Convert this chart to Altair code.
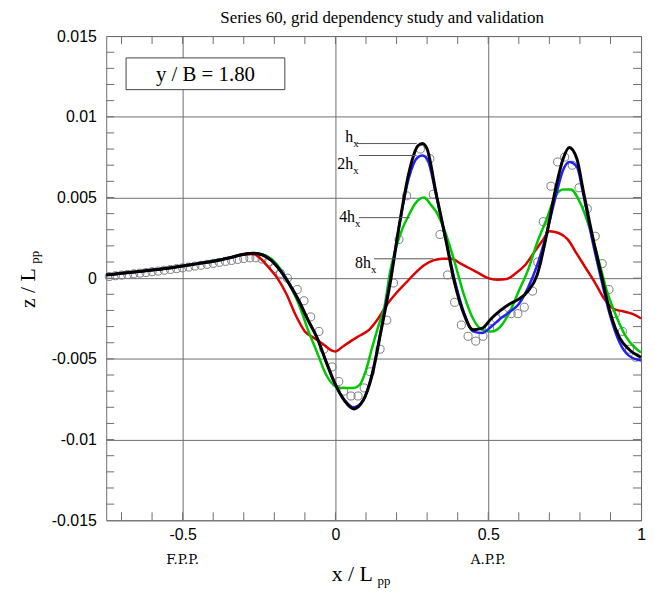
import altair as alt
import pandas as pd

TITLE = "Series 60, grid dependency study and validation"

# ---- computed wave profiles (x / Lpp , z / Lpp) ----
x_h = [-0.75, -0.70, -0.65, -0.60, -0.55, -0.50, -0.45, -0.40, -0.35, -0.30,
       -0.27, -0.24, -0.21, -0.18, -0.15, -0.12, -0.09, -0.06, -0.03, 0.00,
       0.03, 0.06, 0.09, 0.12, 0.15, 0.18, 0.21, 0.24, 0.27, 0.285,
       0.30, 0.33, 0.36, 0.39, 0.42, 0.45, 0.48, 0.51, 0.54, 0.57,
       0.60, 0.63, 0.66, 0.69, 0.72, 0.745, 0.765, 0.79, 0.81, 0.84,
       0.87, 0.90, 0.93, 0.96, 1.00]
z_h = [0.0002, 0.0003, 0.0004, 0.0005, 0.00062, 0.00076, 0.0009, 0.00105, 0.00125, 0.00148,
       0.00155, 0.00145, 0.0011, 0.00045, -0.0004, -0.0014, -0.0026, -0.0037, -0.0052, -0.0066,
       -0.0076, -0.0081, -0.0076, -0.0060, -0.0032, -0.0002, 0.0034, 0.0065, 0.0082, 0.00835,
       0.0080, 0.0052, 0.0025, -0.0003, -0.0022, -0.0032, -0.0031, -0.0025, -0.0020, -0.0016,
       -0.0013, -0.0008, 0.0002, 0.0026, 0.0055, 0.0074, 0.0081, 0.0074, 0.0055, 0.0027,
       0.0002, -0.0022, -0.0037, -0.0044, -0.0049]

x_2h = x_h
z_2h = [0.0002, 0.0003, 0.0004, 0.0005, 0.00062, 0.00076, 0.0009, 0.00105, 0.00125, 0.00148,
        0.00155, 0.00145, 0.00112, 0.0005, -0.00035, -0.00135, -0.00255, -0.0037, -0.0052, -0.0066,
        -0.00755, -0.0080, -0.0076, -0.0059, -0.0031, 0.0000, 0.0034, 0.0062, 0.0075, 0.0076,
        0.0074, 0.0051, 0.0025, -0.0001, -0.0021, -0.0033, -0.0034, -0.0030, -0.0025, -0.0021,
        -0.0016, -0.0006, 0.0008, 0.0027, 0.0050, 0.0067, 0.0072, 0.0069, 0.0053, 0.0024,
        -0.0001, -0.0024, -0.0040, -0.0048, -0.0051]

x_4h = [-0.75, -0.70, -0.65, -0.60, -0.55, -0.50, -0.45, -0.40, -0.35, -0.30,
        -0.27, -0.24, -0.21, -0.18, -0.15, -0.12, -0.09, -0.06, -0.03, 0.00,
        0.02, 0.04, 0.06, 0.08, 0.10, 0.12, 0.14, 0.16, 0.18, 0.20,
        0.22, 0.24, 0.26, 0.29, 0.31, 0.33, 0.36, 0.39, 0.42, 0.45,
        0.48, 0.51, 0.54, 0.57, 0.60, 0.63, 0.66, 0.69, 0.72, 0.745,
        0.77, 0.80, 0.83, 0.86, 0.89, 0.92, 0.95, 0.98, 1.00]
z_4h = [0.0002, 0.0003, 0.0004, 0.0005, 0.00062, 0.00076, 0.0009, 0.00105, 0.00125, 0.00148,
        0.00155, 0.00148, 0.0012, 0.00055, -0.0004, -0.0016, -0.0032, -0.0046, -0.0060, -0.0067,
        -0.0068, -0.0068, -0.0068, -0.0066, -0.0057, -0.0043, -0.0030, -0.0018, 0.0005, 0.0020,
        0.0031, 0.0039, 0.0046, 0.0050, 0.0046, 0.0041, 0.0028, 0.0010, -0.0010, -0.0025,
        -0.0032, -0.0033, -0.0030, -0.0021, -0.0008, 0.0005, 0.0022, 0.0036, 0.0051, 0.0055,
        0.0055, 0.0047, 0.0032, 0.0012, -0.0009, -0.0024, -0.0036, -0.0043, -0.0046]

x_8h = [-0.75, -0.70, -0.65, -0.60, -0.55, -0.50, -0.45, -0.40, -0.35, -0.30,
        -0.27, -0.25, -0.22, -0.19, -0.16, -0.13, -0.10, -0.07, -0.04, -0.01,
        0.00, 0.02, 0.05, 0.08, 0.11, 0.14, 0.17, 0.20, 0.23, 0.26,
        0.29, 0.32, 0.35, 0.38, 0.41, 0.44, 0.47, 0.50, 0.53, 0.56,
        0.59, 0.62, 0.65, 0.68, 0.70, 0.73, 0.76, 0.79, 0.82, 0.85,
        0.88, 0.91, 0.94, 0.97, 1.00]
z_8h = [0.0002, 0.0003, 0.0004, 0.0005, 0.00062, 0.00076, 0.0009, 0.00105, 0.00125, 0.00145,
        0.0015, 0.0013, 0.0007, 0.0000, -0.0010, -0.0023, -0.0033, -0.0037, -0.0041, -0.0045,
        -0.00455, -0.0043, -0.0039, -0.00355, -0.0032, -0.0025, -0.0016, -0.0009, -0.0003, 0.0003,
        0.0008, 0.0011, 0.0012, 0.0012, 0.0009, 0.0006, 0.0003, 0.0000, -0.0001, -0.00005,
        0.0003, 0.0008, 0.0016, 0.0024, 0.0029, 0.0028, 0.0024, 0.0015, 0.0006, -0.0003,
        -0.0013, -0.0019, -0.00205, -0.0022, -0.0025]

# ---- experimental data (open circles) ----
x_exp = [-0.74, -0.72, -0.70, -0.68, -0.66, -0.64, -0.62, -0.60, -0.58, -0.56,
         -0.54, -0.52, -0.50, -0.48, -0.46, -0.44, -0.42, -0.40, -0.38, -0.36,
         -0.34, -0.32, -0.30, -0.28, -0.26, -0.24, -0.22,
         -0.20, -0.18, -0.157, -0.125, -0.103, -0.081, -0.054, -0.038, -0.011, 0.011,
         0.027, 0.051, 0.074, 0.094, 0.114, 0.146, 0.168, 0.19, 0.208, 0.233,
         0.278, 0.309, 0.32, 0.342, 0.367, 0.39, 0.412, 0.434, 0.459, 0.483,
         0.504, 0.526, 0.548, 0.575, 0.597, 0.618, 0.645, 0.662, 0.68, 0.705,
         0.727, 0.75, 0.775, 0.797, 0.824, 0.85, 0.873, 0.895, 0.916, 0.939,
         0.962, 0.982]
z_exp = [0.0001, 0.00015, 0.00019, 0.00023, 0.00027, 0.00031, 0.00035, 0.0004, 0.00044, 0.00049,
         0.00054, 0.00059, 0.00064, 0.00069, 0.00075, 0.0008, 0.00086, 0.00092, 0.00098, 0.00104,
         0.0011, 0.00116, 0.00122, 0.00126, 0.00126, 0.00118, 0.0010,
         0.0006, 0.0003, 0.0000, -0.0007, -0.0014, -0.0024, -0.0033, -0.0044, -0.0055, -0.0064,
         -0.0070, -0.0073, -0.0073, -0.0068, -0.0058, -0.0044, -0.0026, -0.0003, 0.0024, 0.0051,
         0.0080, 0.0074, 0.0052, 0.0027, 0.0002, -0.0015, -0.0029, -0.0036, -0.0039, -0.0036,
         -0.0031, -0.0025, -0.0022, -0.0022, -0.0022, -0.0018, -0.0008, 0.0010, 0.0035, 0.0057,
         0.0072, 0.0075, 0.0070, 0.0056, 0.0043, 0.0026, 0.0009, -0.0007, -0.0022, -0.0033,
         -0.0044, -0.0049]

# ---- axes ----
x_major = [-0.5, 0.0, 0.5, 1.0]
y_major = [-0.015, -0.01, -0.005, 0.0, 0.005, 0.01, 0.015]
x_minor = [-0.7, -0.6, -0.5, -0.4, -0.3, -0.2, -0.1, 0.0, 0.1, 0.2,
           0.3, 0.4, 0.5, 0.6, 0.7, 0.8, 0.9]
y_minor = [i / 1000 for i in range(-14, 15)]

# ---- annotations ----
ann_main = ["h", "2h", "4h", "8h"]
ann_x = [0.058, 0.058, 0.064, 0.116]
ann_z = [0.00846, 0.00678, 0.00348, 0.00063]
lead_x1 = [0.0706, 0.077, 0.077, 0.126]
lead_x2 = [0.266, 0.266, 0.243, 0.32]
lead_z = [0.00834, 0.0076, 0.00375, 0.0012]
station_x = [-0.5, 0.5]
station_lbl = ["F.P.P.", "A.P.P."]

W, H = 539, 488
SERIF = "Liberation Serif"
SANS = "Liberation Sans"
GRID = "#6e6e6e"

xs = alt.Scale(domain=[-0.75, 1.0], nice=False, zero=False)
ys = alt.Scale(domain=[-0.015, 0.015], nice=False, zero=False)
MINUS = "replace(datum.label, '\u2212', '-')"
x_axis = alt.Axis(values=x_major, format=".1~f", labelExpr=MINUS, grid=True,
                  gridColor=GRID, gridWidth=1, gridOpacity=1, ticks=False, tickSize=0,
                  domain=False, labelFont=SANS, labelFontSize=16, labelColor="black",
                  labelPadding=6, labelFlush=False, title="")
y_axis = alt.Axis(values=y_major, format=".3~f", labelExpr=MINUS, grid=True,
                  gridColor=GRID, gridWidth=1, gridOpacity=1, ticks=False, tickSize=0,
                  domain=False, labelFont=SANS, labelFontSize=16, labelColor="black",
                  labelPadding=10, labelFlush=False, title="")


def X(f):
    return alt.X(f, type="quantitative", scale=xs, axis=x_axis)


def Y(f):
    return alt.Y(f, type="quantitative", scale=ys, axis=y_axis)


one = pd.DataFrame({"k": [0]})
layers = []

# minor ticks (inside the frame, all four sides)
xt = pd.DataFrame({"t": x_minor})
yt = pd.DataFrame({"t": y_minor})
layers.append(alt.Chart(xt).mark_rule(color=GRID, strokeWidth=1).encode(
    x=X("t"), y=alt.value(H), y2=alt.value(H - 8)))
layers.append(alt.Chart(xt).mark_rule(color=GRID, strokeWidth=1).encode(
    x=X("t"), y=alt.value(0), y2=alt.value(8)))
layers.append(alt.Chart(yt).mark_rule(color=GRID, strokeWidth=1).encode(
    y=Y("t"), x=alt.value(0), x2=alt.value(8)))
layers.append(alt.Chart(yt).mark_rule(color=GRID, strokeWidth=1).encode(
    y=Y("t"), x=alt.value(W - 8), x2=alt.value(W)))

# experimental circles
layers.append(alt.Chart(pd.DataFrame({"x": x_exp, "z": z_exp})).mark_point(
    shape="circle", filled=False, size=66, color="#7a7a7a", strokeWidth=1, opacity=1
).encode(x=X("x"), y=Y("z")))

# computed lines
for xx, zz, col, w in [(x_8h, z_8h, "#dd0000", 2.5), (x_4h, z_4h, "#00c800", 2.5),
                       (x_2h, z_2h, "#2020ff", 2.5), (x_h, z_h, "#000000", 3)]:
    layers.append(alt.Chart(pd.DataFrame({"x": xx, "z": zz})).mark_line(
        color=col, strokeWidth=w, interpolate="monotone").encode(x=X("x"), y=Y("z")))

# leader lines and labels
lead = pd.DataFrame({"x1": lead_x1, "x2": lead_x2, "z": lead_z})
layers.append(alt.Chart(lead).mark_rule(color="#555555", strokeWidth=1).encode(
    x=X("x1"), x2="x2", y=Y("z")))
ann = pd.DataFrame({"x": ann_x, "z": ann_z, "t": ann_main})
layers.append(alt.Chart(ann).mark_text(font=SERIF, fontSize=16, align="right",
                                       baseline="alphabetic", color="black").encode(
    x=X("x"), y=Y("z"), text="t:N"))
layers.append(alt.Chart(ann).mark_text(font=SERIF, fontSize=11, align="left",
                                       baseline="alphabetic", dy=5, color="black").encode(
    x=X("x"), y=Y("z"), text=alt.value("x")))

# y/B box
layers.append(alt.Chart(one).mark_rect(fill="white", stroke="#444444", strokeWidth=1).encode(
    x=alt.value(20), x2=alt.value(180), y=alt.value(22), y2=alt.value(54)))
layers.append(alt.Chart(one).mark_text(font=SERIF, fontSize=21, color="black",
                                       baseline="middle", align="center").encode(
    x=alt.value(100), y=alt.value(39), text=alt.value("y / B = 1.80")))

# station labels
st = pd.DataFrame({"x": station_x, "t": station_lbl})
layers.append(alt.Chart(st).mark_text(font="DejaVu Serif", fontSize=13.5, color="black",
                                      baseline="middle", align="center").encode(
    x=X("x"), y=alt.value(H + 40), text="t:N"))

# title and axis titles
layers.append(alt.Chart(one).mark_text(font=SERIF, fontSize=17, color="black",
                                       baseline="alphabetic", align="center").encode(
    x=alt.value(278), y=alt.value(-13), text=alt.value(TITLE)))
layers.append(alt.Chart(one).mark_text(font=SERIF, fontSize=22, color="black",
                                       baseline="middle", align="center").encode(
    x=alt.value(248), y=alt.value(H + 54), text=alt.value("x / L")))
layers.append(alt.Chart(one).mark_text(font=SERIF, fontSize=13, color="black",
                                       baseline="middle", align="center").encode(
    x=alt.value(280), y=alt.value(H + 61), text=alt.value("pp")))
layers.append(alt.Chart(one).mark_text(font=SERIF, fontSize=22, color="black", angle=270,
                                       baseline="middle", align="center").encode(
    x=alt.value(-79), y=alt.value(254), text=alt.value("z / L")))
layers.append(alt.Chart(one).mark_text(font=SERIF, fontSize=13, color="black", angle=270,
                                       baseline="middle", align="center").encode(
    x=alt.value(-72), y=alt.value(223), text=alt.value("pp")))

chart = alt.layer(*layers).properties(
    width=W, height=H,
    autosize=alt.AutoSizeParams(type="none"),
    padding={"left": 99, "top": 26, "right": 6, "bottom": 70},
    background="white",
).configure_view(stroke=GRID, strokeWidth=1)

chart.save("out.html", embed_options={"renderer": "svg", "actions": False})
